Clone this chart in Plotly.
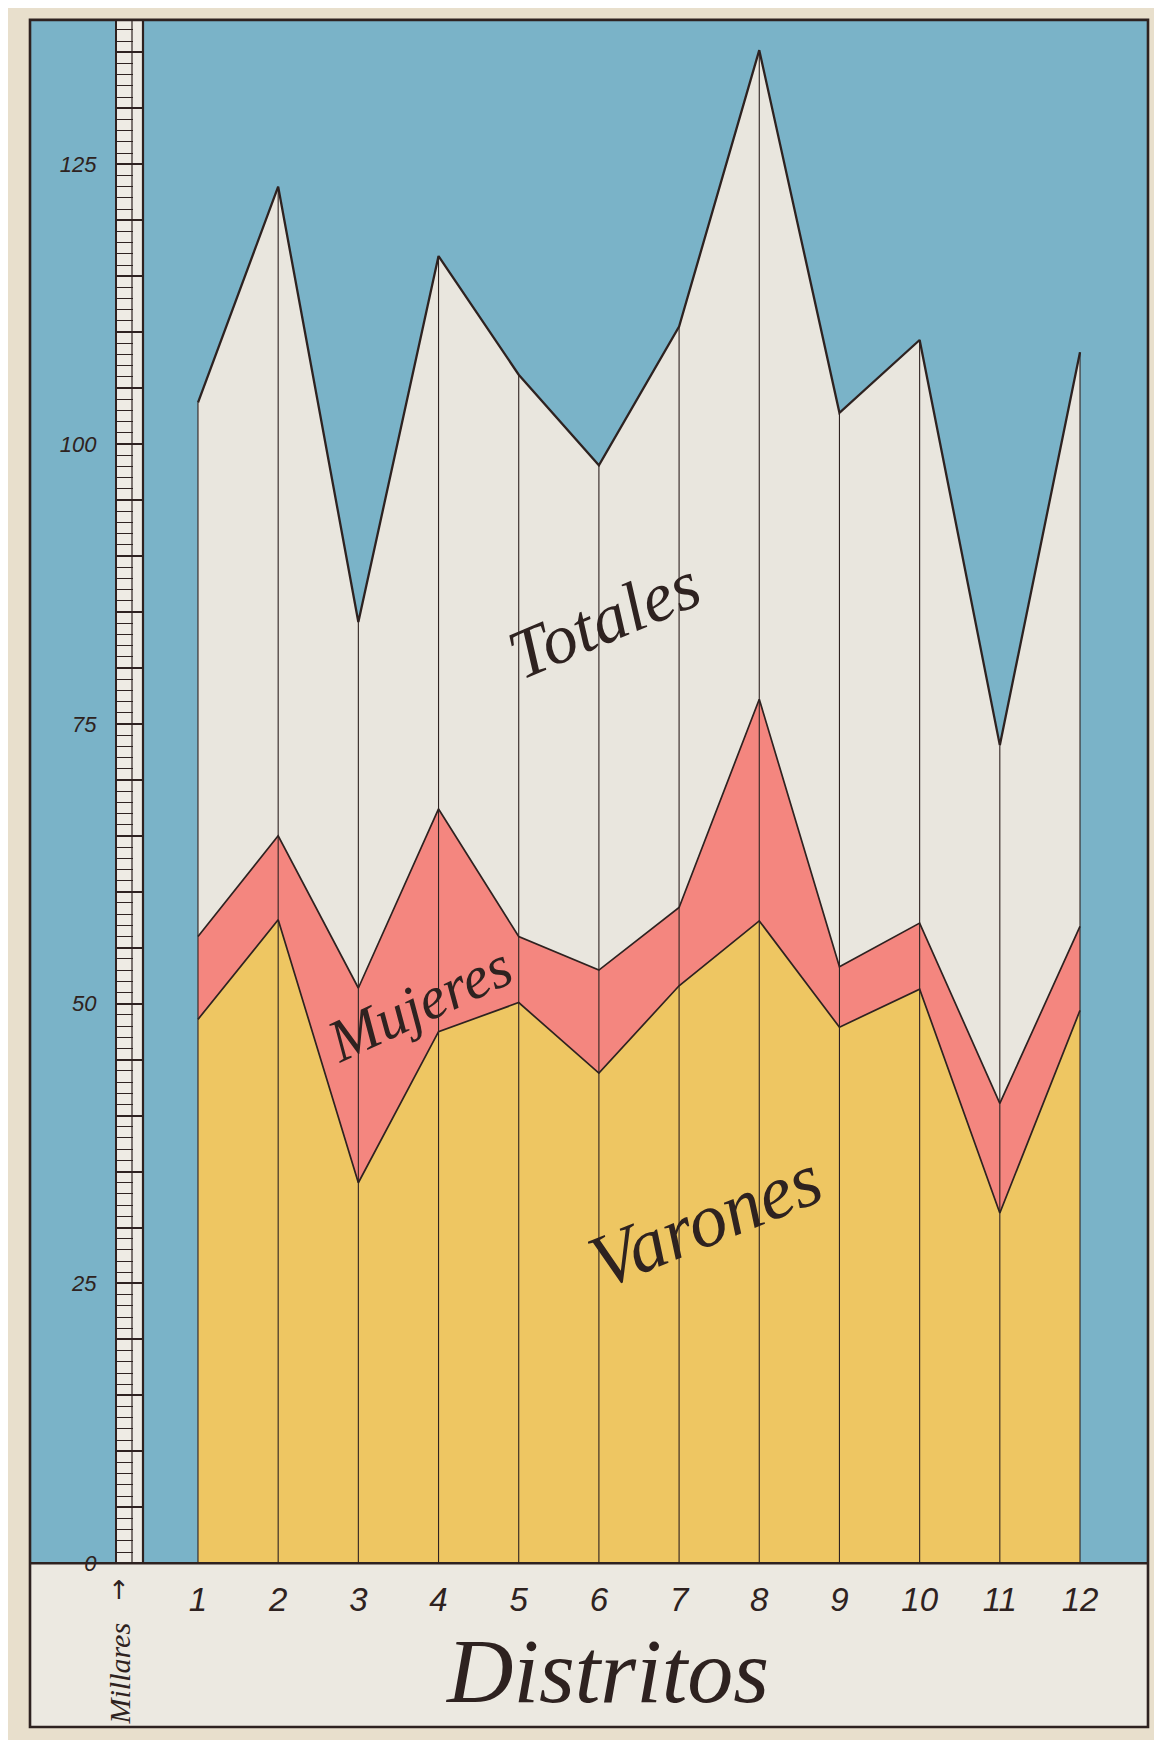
import plotly.graph_objects as go

# ---------------- data (thousands of inhabitants) ----------------
distritos = list(range(1, 13))
distrito_labels = [str(d) for d in distritos]
totales = [103.7, 123.0, 84.1, 116.8, 106.2, 98.1, 110.5, 135.2, 102.8, 109.3, 73.1, 108.2]
mujeres = [56.0, 65.0, 51.4, 67.4, 56.0, 53.0, 58.6, 77.2, 53.3, 57.2, 41.1, 56.9]
varones = [48.6, 57.5, 34.0, 47.5, 50.1, 43.8, 51.6, 57.4, 47.9, 51.3, 31.3, 49.4]
y_label_vals = [0, 25, 50, 75, 100, 125]
y_label_text = ["0", "25", "50", "75", "100", "125"]
ruler_major_step = 5
ruler_minor_step = 1

# ---------------- styling ----------------
W, H = 1162, 1740
BLUE = "#7AB3C8"
PAPERW = "#E9E6DE"
PINK = "#F4867F"
YELLOW = "#EEC662"
INK = "#2E2220"
BG = "#E8DFCC"
BAND = "#ECE9E1"

PX_L, PX_R, PX_T, PX_B = 22, 1140, 12, 1567   # blue plotting area (pixels)
FRAME_B = 1732
RUL_L, RUL_IN, RUL_R = 108, 124, 135           # ruler lines (pixels)
Y_MAX = 137.9
X_LO, X_HI = -1.095, 12.848

def fx(px):
    return px / W

def fy(py):
    return 1 - py / H

fig = go.Figure()

# Totales (white), Mujeres (pink), Varones (yellow), all drawn from zero
fig.add_trace(go.Scatter(x=distritos, y=totales, mode="lines", fill="tozeroy",
                         fillcolor=PAPERW, line=dict(color=INK, width=2.3),
                         name="Totales", hoverinfo="skip"))
fig.add_trace(go.Scatter(x=distritos, y=mujeres, mode="lines", fill="tozeroy",
                         fillcolor=PINK, line=dict(color=INK, width=1.7),
                         name="Mujeres", hoverinfo="skip"))
fig.add_trace(go.Scatter(x=distritos, y=varones, mode="lines", fill="tozeroy",
                         fillcolor=YELLOW, line=dict(color=INK, width=1.7),
                         name="Varones", hoverinfo="skip"))

# vertical district lines, from zero up to the total
vx, vy = [], []
for d, t in zip(distritos, totales):
    vx += [d, d, None]
    vy += [0, t, None]
fig.add_trace(go.Scatter(x=vx, y=vy, mode="lines", line=dict(color=INK, width=1.1),
                         hoverinfo="skip", showlegend=False))

# ruler tick text: only the multiples shown in the reference carry a label
ruler_vals = list(range(0, int(Y_MAX) + 1, ruler_major_step))
ruler_text = [y_label_text[y_label_vals.index(v)] if v in y_label_vals else "" for v in ruler_vals]

fig.update_layout(
    width=W, height=H,
    margin=dict(l=0, r=0, t=0, b=0),
    paper_bgcolor=BG,
    plot_bgcolor=BLUE,
    showlegend=False,
    hovermode=False,
    xaxis=dict(
        domain=[fx(PX_L), fx(PX_R)],
        range=[X_LO, X_HI],
        showgrid=False, zeroline=False, showline=False,
        tickmode="array", tickvals=distritos, ticktext=distrito_labels,
        ticks="", ticklabelstandoff=14,
        tickfont=dict(family="Liberation Sans", size=33, color=INK, style="italic"),
    ),
    yaxis=dict(
        domain=[fy(PX_B), fy(PX_T)],
        range=[0, Y_MAX],
        anchor="free", position=fx(RUL_L), side="left",
        showgrid=False, zeroline=False,
        showline=True, linecolor=INK, linewidth=2.2,
        tickmode="array", tickvals=ruler_vals, ticktext=ruler_text,
        ticks="inside", ticklen=RUL_R - RUL_L, tickwidth=2, tickcolor=INK,
        ticklabelstandoff=14,
        tickfont=dict(family="Liberation Sans", size=22, color=INK, style="italic"),
        minor=dict(tickmode="linear", tick0=0, dtick=ruler_minor_step,
                   ticks="inside", ticklen=RUL_IN - RUL_L, tickwidth=1.2, tickcolor=INK),
    ),
)

shapes = [
    # ruler body
    dict(type="rect", xref="paper", yref="paper", x0=fx(RUL_L), x1=fx(RUL_R),
         y0=fy(PX_B), y1=fy(PX_T), fillcolor="#EEEBE4", line=dict(width=0), layer="below"),
    dict(type="line", xref="paper", yref="paper", x0=fx(RUL_IN), x1=fx(RUL_IN),
         y0=fy(PX_B), y1=fy(PX_T), line=dict(color=INK, width=1.2), layer="above"),
    dict(type="line", xref="paper", yref="paper", x0=fx(RUL_R), x1=fx(RUL_R),
         y0=fy(PX_B), y1=fy(PX_T), line=dict(color=INK, width=2.2), layer="above"),
    # lower band
    dict(type="rect", xref="paper", yref="paper", x0=fx(PX_L), x1=fx(PX_R),
         y0=fy(FRAME_B), y1=fy(PX_B), fillcolor=BAND, line=dict(width=0), layer="below"),
    dict(type="line", xref="paper", yref="paper", x0=fx(PX_L), x1=fx(PX_R),
         y0=fy(PX_B), y1=fy(PX_B), line=dict(color=INK, width=2.6), layer="above"),
    # outer frame
    dict(type="rect", xref="paper", yref="paper", x0=fx(PX_L), x1=fx(PX_R),
         y0=fy(FRAME_B), y1=fy(PX_T), line=dict(color=INK, width=2.6), layer="above"),
]
fig.update_layout(shapes=shapes)

script = dict(family="Liberation Serif", color=INK, style="italic")
annots = [
    dict(text="Totales", x=fx(596), y=fy(616), textangle=-23, font=dict(size=70, **script)),
    dict(text="Mujeres", x=fx(411), y=fy(1004), textangle=-25, font=dict(size=60, **script)),
    dict(text="Varones", x=fx(697), y=fy(1221), textangle=-22, font=dict(size=76, **script)),
    dict(text="Distritos", x=fx(599), y=fy(1676), textangle=0, font=dict(size=92, **script)),
    dict(text="Millares", x=fx(111), y=fy(1678), textangle=-90, font=dict(size=30, **script)),
    dict(text="↑", x=fx(111), y=fy(1594), textangle=0,
         font=dict(family="DejaVu Sans", size=26, color=INK)),
]
for a in annots:
    a.update(xref="paper", yref="paper", showarrow=False, xanchor="center", yanchor="middle")
fig.update_layout(annotations=annots)

fig.write_html("out.html")
